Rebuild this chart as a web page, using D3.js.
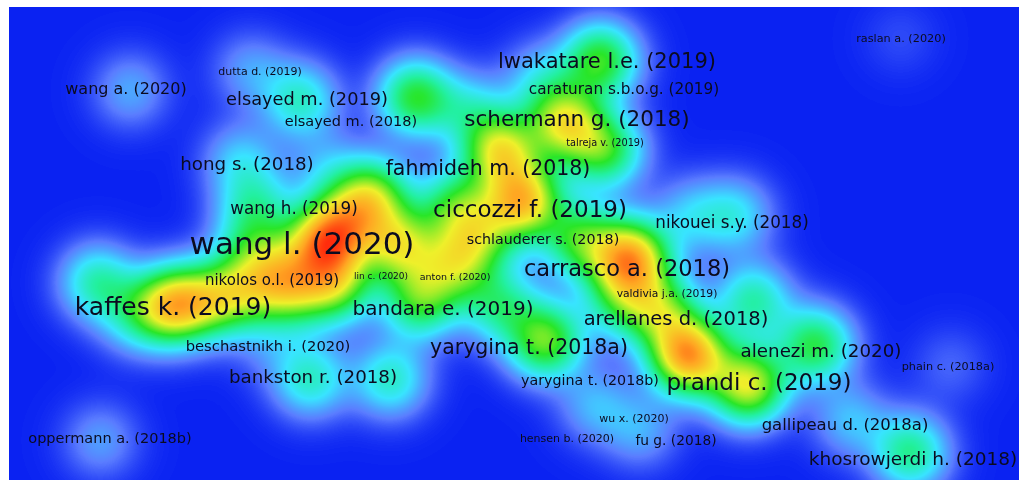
<!DOCTYPE html>
<html>
<head>
<meta charset="utf-8">
<script src="https://cdn.jsdelivr.net/npm/d3@7"></script>
<style>
  body { margin: 0; background: #fff; }
  #map { position: relative; width: 1022px; height: 483px; }
  #map canvas, #map svg { position: absolute; left: 0; top: 0; }
</style>
</head>
<body>
<div id="map"></div>
<script>
// documents shown on the map (map units, label weight)
const labels = ["wang l. (2020)", "kaffes k. (2019)", "ciccozzi f. (2019)", "carrasco a. (2018)", "prandi c. (2019)",
  "lwakatare l.e. (2019)", "schermann g. (2018)", "fahmideh m. (2018)", "bandara e. (2019)", "yarygina t. (2018a)",
  "arellanes d. (2018)", "elsayed m. (2019)", "hong s. (2018)", "nikouei s.y. (2018)", "alenezi m. (2020)",
  "bankston r. (2018)", "khosrowjerdi h. (2018)", "gallipeau d. (2018a)", "wang a. (2020)", "wang h. (2019)",
  "elsayed m. (2018)", "nikolos o.l. (2019)", "beschastnikh i. (2020)", "schlauderer s. (2018)", "caraturan s.b.o.g. (2019)",
  "fu g. (2018)", "yarygina t. (2018b)", "oppermann a. (2018b)", "dutta d. (2019)", "talreja v. (2019)",
  "valdivia j.a. (2019)", "lin c. (2020)", "anton f. (2020)", "raslan a. (2020)", "phain c. (2018a)",
  "wu x. (2020)", "hensen b. (2020)"]
const labelX = [293, 164, 521, 618, 750, 598, 568, 479, 434, 520, 667, 298, 238, 723, 812, 304, 904, 836, 117, 285,
  342, 263, 259, 534, 615, 667, 581, 101, 251, 596, 658, 372, 446, 892, 939, 625, 558]
const labelY = [236, 299, 202, 261, 375, 53, 111, 161, 301, 340, 311, 92, 156, 215, 343, 369, 451, 417, 81, 201,
  114, 273, 339, 232, 82, 433, 373, 431, 64, 135, 286, 269, 270, 31, 359, 411, 431]
const labelWeight = [100, 76, 68, 66, 68, 60, 62, 58, 56, 58, 54, 47, 49, 43, 49, 49, 50, 42, 40, 43,
  34, 36, 35, 33, 37, 31, 33, 34, 20, 15, 19, 12, 14, 21, 21, 20, 20]

// density kernels
const peakX = [316, 281, 326, 363, 390, 241, 231, 163, 200, 88, 126, 246, 316, 231, 411, 446, 491, 446, 491, 514,
  471, 556, 596, 591, 406, 461, 531, 621, 571, 536, 651, 611, 679, 739, 744, 806, 726, 681, 901, 841,
  301, 381, 291, 241, 121, 91, 261, 631, 941, 586, 891, 340, 265]
const peakY = [234, 283, 278, 188, 238, 238, 285, 298, 293, 275, 308, 198, 160, 153, 293, 258, 298, 198, 143, 193,
  228, 116, 143, 53, 90, 103, 73, 251, 233, 333, 303, 293, 348, 378, 293, 338, 208, 208, 445, 413,
  372, 372, 93, 63, 83, 433, 338, 423, 358, 398, 31, 212, 262]
const peakAmp = [0.62, 0.35, 0.4, 0.4, 0.45, 0.18, 0.3, 0.55, 0.3, 0.24, 0.17, 0.2, 0.1, 0.14, 0.35, 0.35, 0.25, 0.3, 0.5, 0.6,
  0.3, 0.5, 0.35, 0.38, 0.36, 0.16, 0.14, 0.66, 0.35, 0.42, 0.36, 0.24, 0.7, 0.52, 0.25, 0.34, 0.17, 0.13, 0.28, 0.13,
  0.22, 0.22, 0.22, 0.1, 0.11, 0.1, 0.06, 0.11, 0.05, 0.12, 0.03, 0.28, 0.24]

const densityStops = [0, 0.07, 0.17, 0.27, 0.38, 0.55, 0.72, 0.92]
const densityColors = ["#0a22f2", "#5a7cff", "#38e4ff", "#22f0a0", "#28e628", "#eef02a", "#ffa622", "#ff2c0c"]

const W = 1022, H = 483
const plot = { left: 9, top: 7, right: 1019, bottom: 480 }
const SIGMA = 26

const xScale = d3.scaleLinear().domain([0, 1010]).range([plot.left, plot.right])
const yScale = d3.scaleLinear().domain([0, 473]).range([plot.top, plot.bottom])
const fontScale = d3.scaleLinear().domain([0, 100]).range([6, 31])
const colorScale = d3.scaleLinear().domain(densityStops).range(densityColors).clamp(true)

let wrap = d3.select('#map')

// density layer
let canvas = wrap.append('canvas').attr('width', W).attr('height', H)
let ctx = canvas.node().getContext('2d')
ctx.fillStyle = '#fff'
ctx.fillRect(0, 0, W, H)

const pw = plot.right - plot.left, ph = plot.bottom - plot.top
let dens = new Float32Array(pw * ph)
const reach = SIGMA * 4
peakX.forEach((px, i) => {
  const cx = xScale(px) - plot.left, cy = yScale(peakY[i]) - plot.top
  const x0 = Math.max(0, Math.floor(cx - reach)), x1 = Math.min(pw - 1, Math.ceil(cx + reach))
  const y0 = Math.max(0, Math.floor(cy - reach)), y1 = Math.min(ph - 1, Math.ceil(cy + reach))
  for (let y = y0; y <= y1; y++) {
    for (let x = x0; x <= x1; x++) {
      const d2 = (x - cx) * (x - cx) + (y - cy) * (y - cy)
      dens[y * pw + x] += peakAmp[i] * Math.exp(-d2 / (2 * SIGMA * SIGMA))
    }
  }
})

const LUT = d3.range(512).map(k => d3.rgb(colorScale(k / 511)))
let img = ctx.createImageData(pw, ph)
for (let k = 0; k < dens.length; k++) {
  const c = LUT[Math.min(511, Math.round(dens[k] * 511))]
  img.data[k * 4] = c.r
  img.data[k * 4 + 1] = c.g
  img.data[k * 4 + 2] = c.b
  img.data[k * 4 + 3] = 255
}
ctx.putImageData(img, plot.left, plot.top)

// labels
let svg = wrap.append('svg').attr('width', W).attr('height', H)
svg.selectAll('text')
  .data(labels)
  .enter()
  .append('text')
  .attr('x', (d, i) => xScale(labelX[i]))
  .attr('y', (d, i) => yScale(labelY[i]))
  .attr('dy', '0.36em')
  .attr('text-anchor', 'middle')
  .attr('font-family', 'DejaVu Sans')
  .attr('font-size', (d, i) => fontScale(labelWeight[i]))
  .attr('fill', '#0b0b20')
  .text(d => d)
</script>
</body>
</html>
